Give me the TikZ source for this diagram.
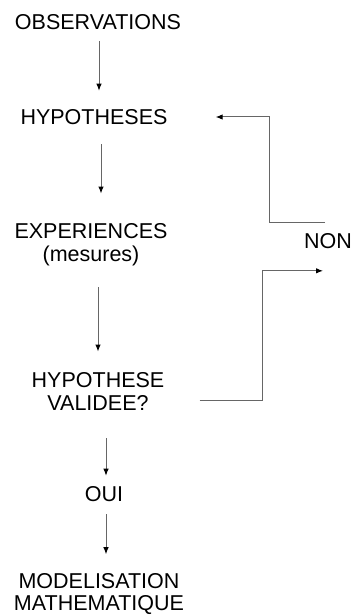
\documentclass[tikz,border=0pt]{standalone}
\usepackage{fontspec}
\setmainfont{Liberation Sans}
\usepackage{tikz}
\usetikzlibrary{calc, arrows.meta}
\tikzset{
    txt/.style = {inner sep=0pt, align=center, font=\fontsize{21.5}{22.5}\selectfont},
    arr/.style = {draw=black!60, line width=1pt, -{Latex[length=7pt,width=5.5pt,color=black]}},
}

\begin{document}
\begin{tikzpicture}[x=1pt,y=-1pt]
\useasboundingbox (0,0) rectangle (352,615);

\node[txt] (obs) at (98,22) {OBSERVATIONS};

\node[txt] (hyp) at (94,117) {HYPOTHESES};
\draw[arr] ($(obs.south)+(1,11.5)$) -- ($(obs.south |- hyp.north)+(1,-18.5)$);

\node[txt] (exp) at (91,244.7) {EXPERIENCES\\(mesures)};
\draw[arr] ($(hyp.south)+(7,19.5)$) -- ($(hyp.south |- exp.north)+(7,-30)$);

\node[txt] (val) at (98,391.5) {HYPOTHESE\\VALIDEE?};
\draw[arr] ($(exp.south)+(7,21.6)$) -- ($(exp.south |- val.north)+(7,-21)$);

\node[txt] (oui) at (104,494) {OUI};
\draw[arr] ($(val.south)+(8,28)$) -- ($(val.south |- oui.north)+(8,-10.5)$);

\node[txt] (mod) at (99,594.2) {MODELISATION\\MATHEMATIQUE};
\draw[arr] ($(oui.south)+(2,12.5)$) -- ($(oui.south |- mod.north)+(2,-19)$);

\node[txt] (non) at (328,241) {NON};
\draw[arr] ($(val.east)+(35,8.5)$) -- ++(63,0) |- ($(non.south)+(-5,22)$);
\draw[arr] ($(non.north)+(-3,-10.5)$) -- ++(-56,0) |- ($(hyp.east)+(48,0)$);
\end{tikzpicture}
\end{document}
